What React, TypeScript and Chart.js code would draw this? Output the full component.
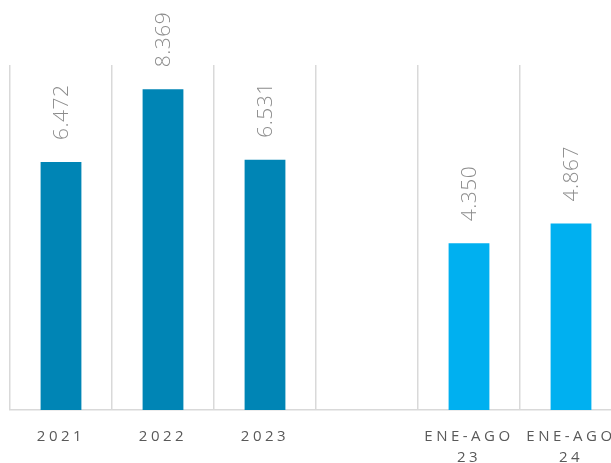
import React, { useEffect, useRef } from "react";
import { Chart, registerables } from "chart.js";

Chart.register(...registerables);

const categories: (string | string[])[] = ["2021", "2022", "2023", "", ["ENE-AGO", "23"], ["ENE-AGO", "24"]];
const values: (number | null)[] = [6472, 8369, 6531, null, 4350, 4867];
const barColors: string[] = ["#0085B5", "#0085B5", "#0085B5", "#0085B5", "#00B0F0", "#00B0F0"];
const yMax = 9000;

function fmt(v: number): string {
  const s = Math.round(v).toString();
  return s.replace(/\B(?=(\d{3})+(?!\d))/g, ".");
}

const labelPlugin = {
  id: "barLabels",
  beforeDraw(chart: any) {
    (chart.ctx as any).letterSpacing = "3.5px";
  },
  afterDatasetsDraw(chart: any) {
    const ctx = chart.ctx as CanvasRenderingContext2D;
    const meta = chart.getDatasetMeta(0);
    ctx.save();
    (ctx as any).letterSpacing = "0.5px";
    ctx.font = '300 21px "Open Sans"';
    ctx.fillStyle = "#8c8c8c";
    ctx.textAlign = "left";
    ctx.textBaseline = "middle";
    meta.data.forEach((bar: any, i: number) => {
      const v = values[i];
      if (v == null) return;
      ctx.save();
      ctx.translate(bar.x + 1, bar.y - 22);
      ctx.rotate(-Math.PI / 2);
      ctx.fillText(fmt(v), 0, 0);
      ctx.restore();
    });
    ctx.restore();
  },
};

export default function App() {
  const ref = useRef<HTMLCanvasElement | null>(null);
  useEffect(() => {
    if (!ref.current) return;
    const chart = new Chart(ref.current, {
      type: "bar",
      data: {
        labels: categories as any,
        datasets: [
          {
            data: values,
            backgroundColor: barColors,
            categoryPercentage: 1,
            barPercentage: 0.4,
          },
        ],
      },
      options: {
        responsive: false,
        animation: false,
        devicePixelRatio: 1,
        layout: { padding: { top: 65, left: 10, right: 0, bottom: 0 } },
        plugins: { legend: { display: false }, tooltip: { enabled: false } },
        scales: {
          x: {
            grid: { color: "#d9d9d9", lineWidth: 1.5, drawTicks: false, offset: true },
            border: { color: "#d9d9d9", width: 1.5 },
            ticks: {
              color: "#595959",
              font: { family: "Open Sans", size: 15, lineHeight: 1.4 },
              padding: 16,
              maxRotation: 0,
              minRotation: 0,
              autoSkip: false,
            },
          },
          y: {
            display: false,
            min: 0,
            max: yMax,
          },
        },
      },
      plugins: [labelPlugin],
    });
    return () => chart.destroy();
  }, []);
  return (
    <div style={{ position: "fixed", left: 0, top: 0, width: 611, height: 463, overflow: "hidden", background: "#fff" }}>
      <canvas ref={ref} width={622} height={484} style={{ width: 622, height: 484, display: "block" }} />
    </div>
  );
}
